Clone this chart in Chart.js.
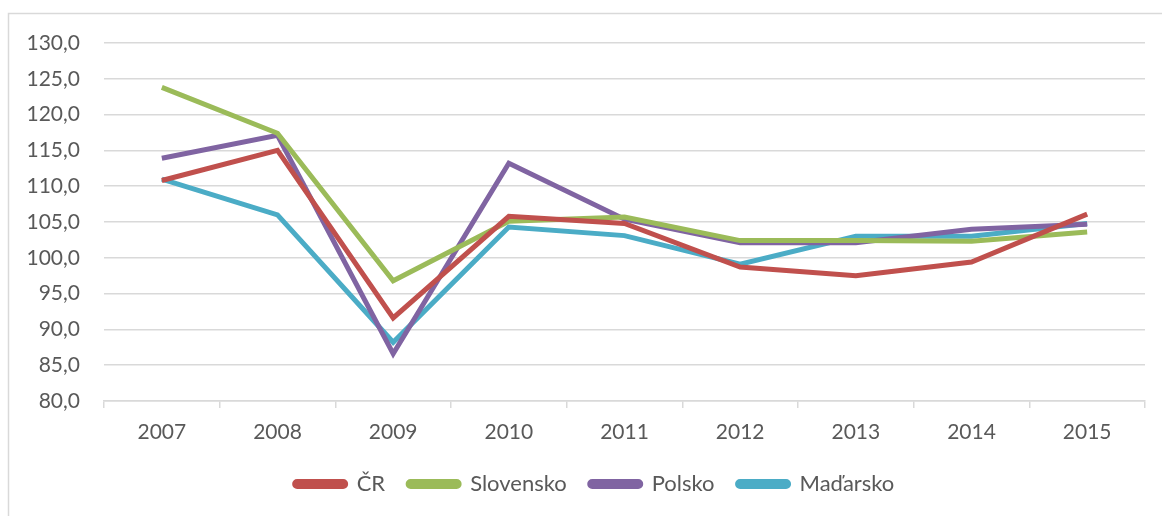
<!DOCTYPE html>
<html>
<head>
<meta charset="utf-8">
<script src="https://cdn.jsdelivr.net/npm/chart.js@4/dist/chart.umd.min.js"></script>
<style>
  html, body { margin: 0; padding: 0; background: #fff; }
  #wrap { position: relative; width: 1162px; height: 516px; }
</style>
</head>
<body>
<div id="wrap"><canvas id="graf"></canvas></div>
<script>
const roky = ['2007', '2008', '2009', '2010', '2011', '2012', '2013', '2014', '2015'];
const cr = [110.8, 115.0, 91.6, 105.8, 104.8, 98.7, 97.5, 99.4, 106.1];
const slovensko = [123.8, 117.4, 96.8, 105.1, 105.7, 102.4, 102.4, 102.3, 103.6];
const polsko = [113.9, 117.1, 86.6, 113.2, 105.4, 102.1, 102.1, 104.0, 104.7];
const madarsko = [111.0, 106.0, 88.2, 104.3, 103.1, 99.1, 103.0, 103.0, 104.8];
const yMin = 80, yMax = 130, yKrok = 5;

const seda = '#595959';
const mrizka = '#d9d9d9';

// ramecek kolem celeho grafu
const ramecek = {
  id: 'ramecek',
  beforeDraw(chart) {
    const c = chart.ctx;
    c.save();
    c.strokeStyle = mrizka;
    c.lineWidth = 1.5;
    c.strokeRect(8.5, 13.5, chart.width + 20, chart.height + 20);
    c.restore();
  }
};

// legenda je v originale posunuta doprava (centrovana na cely ramecek)
const posunLegendy = {
  id: 'posunLegendy',
  afterLayout(chart) {
    const lg = chart.legend;
    if (!lg) return;
    lg.left += 22;
    lg.right += 22;
  }
};

function serie(label, data, barva) {
  return {
    label: label,
    data: data,
    borderColor: barva,
    backgroundColor: barva,
    borderWidth: 5,
    pointRadius: 0,
    tension: 0,
    fill: false
  };
}

const ctx = document.getElementById('graf').getContext('2d');
new Chart(ctx, {
  type: 'line',
  data: {
    labels: roky,
    datasets: [
      serie('ČR', cr, '#C0504D'),
      serie('Slovensko', slovensko, '#9BBB59'),
      serie('Polsko', polsko, '#8064A2'),
      serie('Maďarsko', madarsko, '#4BACC6')
    ]
  },
  options: {
    responsive: true,
    maintainAspectRatio: false,
    animation: false,
    layout: { padding: { top: 43, right: 17, left: 0, bottom: 11 } },
    scales: {
      x: {
        offset: true,
        grid: {
          offset: true,
          drawOnChartArea: false,
          drawTicks: true,
          tickLength: 7,
          color: mrizka,
          lineWidth: 1.5
        },
        border: { display: true, color: mrizka, width: 1.5 },
        ticks: {
          color: seda,
          font: { family: 'Lato', size: 21 },
          padding: 12
        },
        afterFit(scale) { scale.height = 49; }
      },
      y: {
        min: yMin,
        max: yMax,
        grid: { color: mrizka, lineWidth: 1.5, drawTicks: false },
        border: { display: false },
        ticks: {
          stepSize: yKrok,
          color: seda,
          font: { family: 'Lato', size: 21 },
          padding: 24,
          callback: (v) => v.toFixed(1).replace('.', ',')
        },
        afterFit(scale) { scale.width = 104; }
      }
    },
    plugins: {
      legend: {
        position: 'bottom',
        labels: {
          color: seda,
          font: { family: 'Lato', size: 22 },
          boxWidth: 51,
          boxHeight: 5,
          padding: 23,
          useBorderRadius: true,
          borderRadius: 2.5
        }
      },
      tooltip: { enabled: false }
    }
  },
  plugins: [ramecek, posunLegendy]
});
</script>
</body>
</html>
